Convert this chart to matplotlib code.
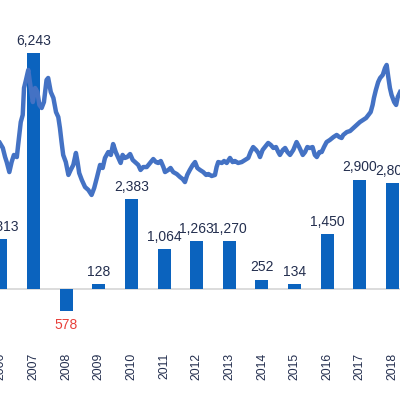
import matplotlib.pyplot as plt

plt.rcParams['font.family'] = ['Liberation Sans', 'DejaVu Sans']

# yearly net values (bars)
years = [2006, 2007, 2008, 2009, 2010, 2011, 2012, 2013, 2014, 2015, 2016, 2017, 2018]
values = [1313, 6243, -578, 128, 2383, 1064, 1263, 1270, 252, 134, 1450, 2900, 2800]
labels = ['1,313', '6,243', '578', '128', '2,383', '1,064', '1,263', '1,270',
          '252', '134', '1,450', '2,900', '2,800']

# index level (line)
idx_dates = [2005.97, 2006.06, 2006.13, 2006.18, 2006.26, 2006.33, 2006.40, 2006.49,
             2006.53, 2006.61, 2006.67, 2006.71, 2006.77, 2006.84, 2006.89, 2006.98,
             2007.05, 2007.12, 2007.18, 2007.25, 2007.32, 2007.40, 2007.45, 2007.53,
             2007.61, 2007.69, 2007.76, 2007.81, 2007.86, 2007.91, 2007.99, 2008.07,
             2008.14, 2008.22, 2008.30, 2008.35, 2008.40, 2008.48, 2008.58, 2008.68,
             2008.78, 2008.86, 2008.94, 2009.04, 2009.12, 2009.19, 2009.29, 2009.37,
             2009.44, 2009.52, 2009.60, 2009.67, 2009.73, 2009.80, 2009.87, 2009.96,
             2010.04, 2010.11, 2010.21, 2010.28, 2010.36, 2010.47, 2010.57, 2010.67,
             2010.75, 2010.82, 2010.90, 2010.98, 2011.03, 2011.13, 2011.20, 2011.28,
             2011.39, 2011.49, 2011.57, 2011.64, 2011.71, 2011.79, 2011.88, 2011.95,
             2012.02, 2012.10, 2012.20, 2012.29, 2012.36, 2012.46, 2012.56, 2012.61,
             2012.66, 2012.77, 2012.84, 2012.92, 2013.02, 2013.10, 2013.17, 2013.27,
             2013.38, 2013.48, 2013.58, 2013.65, 2013.73, 2013.82, 2013.89, 2013.94,
             2014.02, 2014.09, 2014.19, 2014.27, 2014.35, 2014.43, 2014.50, 2014.55,
             2014.64, 2014.71, 2014.78, 2014.86, 2014.96, 2015.06, 2015.14, 2015.25,
             2015.32, 2015.39, 2015.47, 2015.55, 2015.62, 2015.68, 2015.76, 2015.83,
             2015.90, 2015.98, 2016.08, 2016.19, 2016.29, 2016.37, 2016.44, 2016.49,
             2016.60, 2016.70, 2016.80, 2016.90, 2017.00, 2017.10, 2017.19, 2017.26,
             2017.33, 2017.39, 2017.43, 2017.49, 2017.56, 2017.62, 2017.70, 2017.77,
             2017.82, 2017.87, 2017.92, 2017.97, 2018.05, 2018.11, 2018.16, 2018.23]
idx_level = [631, 593, 524, 486, 410, 486, 540, 524,
             616, 790, 844, 1049, 1110, 1186, 1094, 942,
             1049, 1018, 920, 897, 942, 1110, 1125, 1018,
             973, 866, 828, 745, 638, 540, 486, 388,
             426, 464, 555, 486, 403, 350, 296, 274,
             236, 289, 365, 464, 441, 517, 562, 540,
             623, 562, 517, 479, 540, 517, 524, 547,
             502, 486, 464, 426, 448, 448, 479, 509,
             486, 479, 494, 448, 410, 426, 441, 410,
             395, 372, 357, 334, 388, 426, 464, 486,
             441, 426, 410, 388, 395, 380, 388, 448,
             486, 479, 494, 479, 517, 486, 494, 479,
             486, 502, 517, 562, 600, 578, 555, 524,
             578, 600, 631, 616, 593, 600, 562, 540,
             578, 593, 562, 540, 578, 638, 600, 540,
             562, 600, 593, 600, 540, 524, 562, 562,
             600, 638, 654, 676, 692, 676, 669, 692,
             714, 722, 745, 768, 790, 806, 821, 844,
             866, 920, 973, 1034, 1094, 1125, 1148, 1201,
             1224, 1132, 1049, 996, 942, 920, 980, 1018]

bar_color = '#0B63BE'
line_color = '#4472C4'
text_color = '#232E4E'
neg_color = '#E8403A'

fig = plt.figure(figsize=(4, 4), dpi=100)
ax = fig.add_axes([0, 0, 1, 1])
ax.set_xlim(2005.974, 2018.229)
ax.set_ylim(-2940, 7656)

ax.axhline(0, color='#D9D9D9', lw=1.3, zorder=0)
ax.bar(years, values, width=0.4, color=bar_color, zorder=2)

for yr, v, lab in zip(years, values, labels):
    if v >= 0:
        ax.annotate(lab, (yr, v), xytext=(0, 5.8), textcoords='offset points',
                    ha='center', va='baseline', fontsize=10, color=text_color)
    else:
        ax.annotate(lab, (yr, v), xytext=(0, -5.5), textcoords='offset points',
                    ha='center', va='top', fontsize=10, color=neg_color)
    ax.text(yr, -2040, str(yr), rotation=90, ha='center', va='center',
            fontsize=8.7, color=text_color)

for s in ax.spines.values():
    s.set_visible(False)
ax.set_xticks([])
ax.set_yticks([])

ax2 = ax.twinx()
ax2.set_ylim(-1322.4, 1717.6)
ax2.plot(idx_dates, idx_level, color=line_color, lw=3.2, zorder=3,
         solid_joinstyle='round')
for s in ax2.spines.values():
    s.set_visible(False)
ax2.set_yticks([])

fig.savefig('out.png', dpi=100)
